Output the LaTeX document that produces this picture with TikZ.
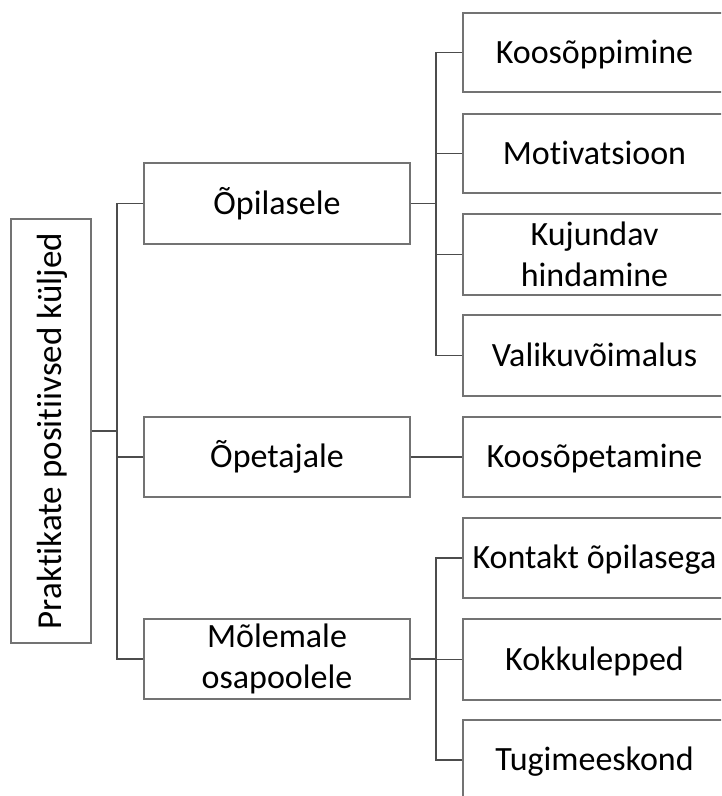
\documentclass[tikz,border=0pt]{standalone}
\usepackage{fontspec}
\setmainfont{Carlito}[Ligatures=NoCommon]
\begin{document}
\begin{tikzpicture}[x=1pt,y=-1pt,
  box/.style={draw=black!55, line width=1.3pt, rectangle, inner sep=0pt, align=center,
    font=\fontsize{34}{41}\selectfont, text=black},
  one/.style={text height=25pt, text depth=4pt},
  midbox/.style={box, minimum width=266pt, minimum height=80pt},
  leafbox/.style={box, minimum width=263pt, minimum height=80pt},
  conn/.style={draw=black!70, line width=1.3pt}]
\useasboundingbox (0,0) rectangle (721,796);
\clip (0,0) rectangle (721,796);
% root
\node[box, one, rotate=90, minimum width=424pt, minimum height=80pt, font=\fontsize{35}{42}\selectfont] (root) at (51,431) {Praktikate positiivsed küljed};
% middle
\node[midbox, one, minimum height=81pt] (o1) at (277,203.5) {Õpilasele};
\node[midbox, one] (o2) at (277,457) {Õpetajale};
\node[midbox] (o3) at (277,659) {Mõlemale\\osapoolele};
% leaves
\node[leafbox, one, minimum height=79pt] (r1) at (594.5,52.5) {Koosõppimine};
\node[leafbox, one, minimum height=79pt] (r2) at (594.5,153.5) {Motivatsioon};
\node[leafbox, minimum height=81pt] (r3) at (594.5,254.5) {Kujundav\\hindamine};
\node[leafbox, one, minimum height=81pt] (r4) at (594.5,355.5) {Valikuvõimalus};
\node[leafbox, one] (r5) at (594.5,457) {Koosõpetamine};
\node[leafbox, one] (r6) at (594.5,558) {Kontakt õpilasega};
\node[leafbox, one, minimum height=81pt] (r7) at (594.5,659.5) {Kokkulepped};
\node[leafbox, one] (r8) at (594.5,760) {Tugimeeskond};
% connectors root -> middle
\coordinate (j0) at (117,431);
\draw[conn] (root.south) -- (j0);
\draw[conn] (o1.west) -- (o1.west -| j0) -- (o3.west -| j0) -- (o3.west);
\draw[conn] (o2.west) -- (o2.west -| j0);
% Õpilasele group
\coordinate (j1) at (436,203.5);
\draw[conn] (o1.east) -- (j1);
\draw[conn] (r1.west) -- (r1.west -| j1) -- (r4.west -| j1) -- (r4.west);
\draw[conn] (r2.west) -- (r2.west -| j1);
\draw[conn] (r3.west) -- (r3.west -| j1);
% Õpetajale
\draw[conn] (o2.east) -- (r5.west);
% Mõlemale group
\coordinate (j2) at (436,659);
\draw[conn] (o3.east) -- (j2);
\draw[conn] (r6.west) -- (r6.west -| j2) -- (r8.west -| j2) -- (r8.west);
\draw[conn] (r7.west) -- (r7.west -| j2);
\end{tikzpicture}
\end{document}
